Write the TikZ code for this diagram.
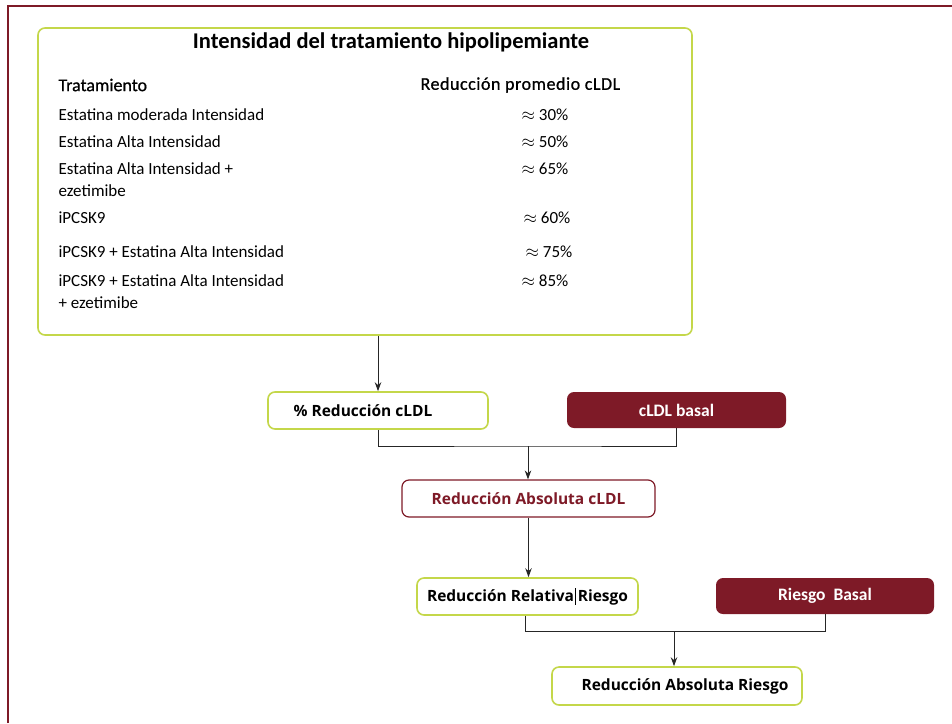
\documentclass[tikz,border=0pt]{standalone}
\usepackage{fontspec}
\setmainfont{Carlito}
\newfontfamily\opensans{Open Sans}
\newfontfamily\headfont[FakeBold=0.8]{Carlito}
\usepackage{tikz}
\usetikzlibrary{arrows.meta}
\definecolor{darkRed}{RGB}{126, 26, 39}
\definecolor{limeGreen}{RGB}{196, 215, 74}

\tikzset{
  greenbox/.style={draw=limeGreen, line width=1.6pt, rounded corners=7pt, fill=white},
  redline/.style={draw=darkRed, line width=1.2pt, rounded corners=7pt, fill=white},
  redfill/.style={fill=darkRed, rounded corners=7pt, text=white, font=\fontsize{17.5}{20}\selectfont\bfseries},
  flowtext/.style={font=\opensans\fontsize{15.5}{18}\selectfont\bfseries},
  rowtext/.style={anchor=west, align=left, font=\fontsize{17}{22}\selectfont},
  headtext/.style={anchor=west, font=\headfont\fontsize{18}{20}\selectfont},
  valtext/.style={font=\fontsize{17}{20}\selectfont},
  arr/.style={-{Stealth[length=9pt, width=6.5pt]}, line width=1pt, draw=black!85},
  link/.style={line width=1pt, draw=black!85}
}

\begin{document}
\begin{tikzpicture}[x=1pt, y=-1pt]
        \useasboundingbox (0,0) rectangle (952,723);
        \draw[darkRed, line width=2.4pt] (8,723) -- (8,6) -- (952,6);

        % table box
        \node[greenbox, minimum width=654pt, minimum height=307pt] (tabla) at (365,181.5) {};
        \node[font=\fontsize{22.5}{26}\selectfont\bfseries] (titulo) at (391,42) {Intensidad del tratamiento hipolipemiante};
        \node[headtext] (hdrTrat) at (55,85) {Tratamiento};
        \node[headtext] (hdrRed) at (417,85) {\addfontfeature{LetterSpace=3}Reducción promedio cLDL};
        \node[rowtext] (trat1) at (55,115) {Estatina moderada Intensidad};
        \node[rowtext] (trat2) at (55,142) {Estatina Alta Intensidad};
        \node[rowtext] (trat3) at (55,180) {Estatina Alta Intensidad +\\ezetimibe};
        \node[rowtext] (trat4) at (55,218) {iPCSK9};
        \node[rowtext] (trat5) at (55,252) {iPCSK9 + Estatina Alta Intensidad};
        \node[rowtext] (trat6) at (55,292) {iPCSK9 + Estatina Alta Intensidad\\+ ezetimibe};
        \node[valtext] (val1) at (545,115) {$\approx$ 30\%};
        \node[valtext] (val2) at (545,142) {$\approx$ 50\%};
        \node[valtext] (val3) at (545,169) {$\approx$ 65\%};
        \node[valtext] (val4) at (547,218) {$\approx$ 60\%};
        \node[valtext] (val5) at (549,252) {$\approx$ 75\%};
        \node[valtext] (val6) at (545,281) {$\approx$ 85\%};

        % flow boxes
        \node[greenbox, flowtext, minimum width=220pt, minimum height=37pt] (pctRed) at (378,410.5) {\% Reducción cLDL\hspace*{30pt}};
        \node[redfill, minimum width=219pt, minimum height=36pt] (basal) at (676.5,410) {cLDL basal};
        \node[redline, flowtext, text=darkRed, minimum width=253pt, minimum height=37pt] (absCldl) at (528.5,498.5) {Reducción Absoluta cLDL};
        \node[greenbox, flowtext, minimum width=221pt, minimum height=37pt] (relRiesgo) at (527.5,596.5) {Reducción Relativa\kern1pt\rule[-3pt]{0.8pt}{17pt}\kern2pt Riesgo};
        \node[redfill, minimum width=218pt, minimum height=36pt] (riesgoBasal) at (825,596) {Riesgo\ \ Basal};
        \node[greenbox, flowtext, minimum width=250pt, minimum height=38pt] (absRiesgo) at (677,686) {\hspace*{16pt}Reducción Absoluta Riesgo};

        \coordinate (junta1) at (528,446);
        \coordinate (junta2) at (674,631);

        \draw[arr] (tabla.south -| pctRed) -- (pctRed.north);
        \draw[link] (pctRed.south) |- (junta1) -| (basal.south);
        \draw[arr] (junta1) -- (junta1 |- absCldl.north);
        \draw[arr] (absCldl.south) -- (absCldl.south |- relRiesgo.north);
        \draw[link] ([xshift=-2.5pt]relRiesgo.south) |- (junta2) -| (riesgoBasal.south);
        \draw[arr] (junta2) -- (junta2 |- absRiesgo.north);
      \end{tikzpicture}
\end{document}
